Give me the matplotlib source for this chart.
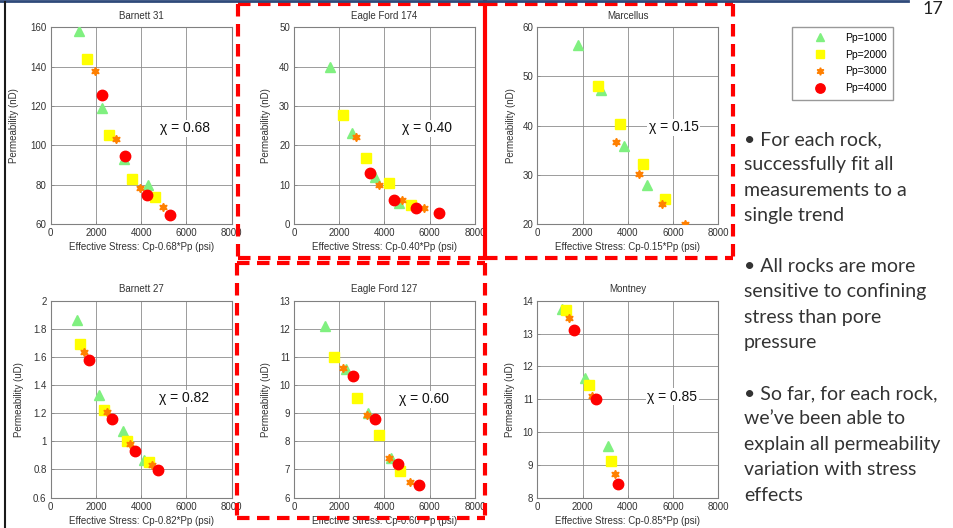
import matplotlib.pyplot as plt
from matplotlib.lines import Line2D
from matplotlib.ticker import FormatStrFormatter

W, H = 954, 528

# legend / series styling
pp_labels = ["Pp=1000", "Pp=2000", "Pp=3000", "Pp=4000"]
pp_colors = ["#80F080", "#FFFF00", "#FF8000", "#FF0000"]
pp_markers = ["^", "s", (6, 1, 0), "o"]
pp_sizes = [7, 6.5, 6, 7.5]

# --- data, one inner list per Pp (1000, 2000, 3000, 4000) ---
barnett31_x = [[1270, 2280, 3240, 4290], [1590, 2590, 3580, 4600],
               [1940, 2900, 3930, 4950], [2280, 3280, 4240, 5270]]
barnett31_y = [[158, 119, 93, 80], [144, 105, 82.7, 73.6],
               [138, 103.4, 78.1, 68.5], [125.8, 94.4, 74.7, 64.7]]

eagle174_x = [[1590, 2550, 3580, 4640], [2150, 3180, 4180, 5150],
              [2750, 3740, 4760, 5760], [3370, 4400, 5400, 6390]]
eagle174_y = [[40, 23.2, 12, 5.4], [27.8, 16.7, 10.3, 4.9],
              [22, 10, 6.2, 4], [13, 6, 4, 2.9]]

marcellus_x = [[1810, 2810, 3840, 4830], [2670, 3650, 4670, 5660],
               [3500, 4510, 5510, 6520], []]
marcellus_y = [[56.4, 47.2, 35.9, 28], [48, 40.4, 32.2, 25],
               [36.7, 30.1, 24.1, 20], []]

barnett27_x = [[1150, 2150, 3200, 4140], [1310, 2340, 3360, 4330],
               [1490, 2500, 3520, 4490], [1710, 2730, 3730, 4730]]
barnett27_y = [[1.86, 1.33, 1.07, 0.87], [1.69, 1.22, 1.0, 0.85],
               [1.635, 1.21, 0.98, 0.83], [1.58, 1.16, 0.93, 0.795]]

eagle127_x = [[1370, 2300, 3280, 4300], [1780, 2770, 3760, 4700],
              [2150, 3230, 4180, 5110], [2590, 3560, 4580, 5540]]
eagle127_y = [[12.1, 10.58, 8.99, 7.39], [11.0, 9.54, 8.22, 6.95],
              [10.62, 8.92, 7.41, 6.56], [10.32, 8.78, 7.19, 6.43]]

montney_x = [[1090, 2090, 3140], [1280, 2280, 3270],
             [1400, 2430, 3430], [1620, 2580, 3580]]
montney_y = [[13.76, 11.64, 9.56], [13.72, 11.42, 9.12],
             [13.46, 11.1, 8.71], [13.1, 11.0, 8.4]]

titles = ["Barnett 31", "Eagle Ford 174", "Marcellus",
          "Barnett 27", "Eagle Ford 127", "Montney"]
chi = ["0.68", "0.40", "0.15", "0.82", "0.60", "0.85"]
chi_pos = [(4830, 108.6), (4760, 24.3), (4930, 39.7),
           (4800, 1.306), (4640, 9.49), (4870, 11.07)]
ylims = [(60, 160), (0, 50), (20, 60), (0.6, 2), (6, 13), (8, 14)]
ysteps = [20, 10, 10, 0.2, 1, 1]
units = ["nD", "nD", "nD", "uD", "uD", "uD"]
coef = ["0.68", "0.40", "0.15", "0.82", "0.60", "0.85"]
xs = [barnett31_x, eagle174_x, marcellus_x, barnett27_x, eagle127_x, montney_x]
ys = [barnett31_y, eagle174_y, marcellus_y, barnett27_y, eagle127_y, montney_y]

bullets = ("\u2022 For each rock,\nsuccessfully fit all\nmeasurements to a\nsingle trend\n\n"
           "\u2022 All rocks are more\nsensitive to confining\nstress than pore\npressure\n\n"
           "\u2022 So far, for each rock,\nwe\u2019ve been able to\nexplain all permeability\n"
           "variation with stress\neffects")

plt.rcParams['font.family'] = ['Liberation Sans', 'DejaVu Sans']


def rect(l, t, r, b):
    return [l / W, 1 - b / H, (r - l) / W, (b - t) / H]


lefts = [50.7, 294, 537.3]
rights = [231.7, 475, 718.3]
tops = [27.3, 300.7]
bottoms = [224, 497.5]
ylab_x = [-0.2, -0.155, -0.145, -0.175, -0.155, -0.15]

fig = plt.figure(figsize=(W / 100, H / 100), dpi=100)

handles = []
for i in range(6):
    r, c = divmod(i, 3)
    ax = fig.add_axes(rect(lefts[c], tops[r], rights[c], bottoms[r]))
    ax.set_axisbelow(True)
    for k in range(4):
        h, = ax.plot(xs[i][k], ys[i][k], linestyle="none", marker=pp_markers[k],
                     ms=pp_sizes[k], color=pp_colors[k], mec=pp_colors[k],
                     label=pp_labels[k], zorder=3 + k)
        if i == 0:
            handles.append(h)
    lo, hi = ylims[i]
    ax.set_xlim(0, 8000)
    ax.set_ylim(lo, hi)
    n = int(round((hi - lo) / ysteps[i]))
    ax.set_yticks([lo + j * ysteps[i] for j in range(n + 1)])
    ax.set_xticks([0, 2000, 4000, 6000, 8000])
    ax.yaxis.set_major_formatter(FormatStrFormatter('%g'))
    ax.grid(True, color="#8c8c8c", lw=0.6)
    for s in ax.spines.values():
        s.set_color("#808080")
        s.set_linewidth(0.8)
    ax.tick_params(direction="in", length=2, width=0.5, color="#808080",
                   labelsize=7, labelcolor="#333333", pad=3)
    ax.set_title(titles[i], fontsize=7, color="#333333", pad=6)
    ax.set_xlabel("Effective Stress: Cp-%s*Pp (psi)" % coef[i], fontsize=7,
                  color="#333333", labelpad=3)
    ax.set_ylabel("Permeability (%s)" % units[i], fontsize=7, color="#333333",
                  va="center")
    ax.yaxis.set_label_coords(ylab_x[i], 0.5)
    ax.text(chi_pos[i][0], chi_pos[i][1], "\u03c7 = " + chi[i], fontsize=10,
            ha="left", va="center", color="#111111", zorder=10,
            bbox=dict(facecolor="white", edgecolor="none", pad=1))

fig.legend(handles=handles, loc="upper left",
           bbox_to_anchor=(791.7 / W, 1 - 26.7 / H), fontsize=7.5,
           frameon=True, fancybox=False, edgecolor="#808080",
           handlelength=4.2, handletextpad=0.3, borderpad=0.6,
           labelspacing=0.65, borderaxespad=0, markerscale=0.9)

fig.text(744 / W, 1 - 131 / H, bullets, fontsize=14, family=["Lato", "DejaVu Sans"],
         color="#333333", va="top", ha="left", linespacing=1.6)

# slide decorations
tf = fig.transFigure


def px_line(x0, y0, x1, y1, **kw):
    fig.add_artist(Line2D([x0 / W, x1 / W], [1 - y0 / H, 1 - y1 / H],
                          transform=tf, **kw))


dash = dict(color="#FF0000", lw=3, linestyle=(0, (3, 1.8)), solid_capstyle="butt")
# Eagle Ford 174 box
px_line(238, 3.5, 238, 258, **dash)
px_line(238, 3.5, 485, 3.5, **dash)
px_line(238, 258, 485, 258, **dash)
# Marcellus box
px_line(485, 3.5, 733, 3.5, **dash)
px_line(733, 3.5, 733, 258, **dash)
px_line(485, 258, 733, 258, **dash)
# Eagle Ford 127 box
px_line(237, 263, 485, 263, **dash)
px_line(237, 263, 237, 518, **dash)
px_line(485, 263, 485, 518, **dash)
px_line(237, 518, 485, 518, **dash)
# solid divider
px_line(485.5, 2, 485.5, 258, color="#FF0000", lw=3)

px_line(0, 1, 908, 1, color="#2F4A7A", lw=2)
px_line(5, 2, 5, 528, color="#1a1a1a", lw=1.5)
fig.text(923 / W, 1 - 1 / H, "17", fontsize=13, family=["Lato", "DejaVu Sans"],
         color="#222222", ha="left", va="top")

fig.savefig("out.png", dpi=100)
